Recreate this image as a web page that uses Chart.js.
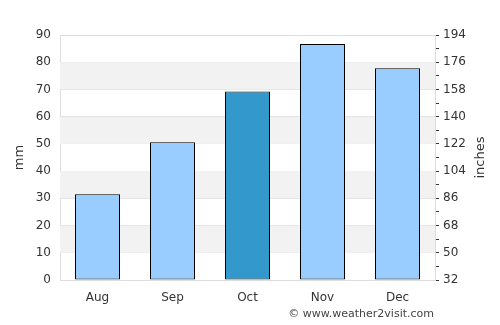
<!DOCTYPE html>
<html>
<head>
<meta charset="utf-8">
<script src="https://cdn.jsdelivr.net/npm/chart.js@4"></script>
<style>
  html, body { margin: 0; padding: 0; background: #fff; }
  #wrap { width: 500px; height: 325px; }
</style>
</head>
<body>
<div id="wrap"><canvas id="rainChart"></canvas></div>
<script>
// data
const months = ['Aug', 'Sep', 'Oct', 'Nov', 'Dec'];
const rainfall = [31.5, 50.6, 69.2, 86.7, 77.8];
const highlight = [false, false, true, false, false];
const mmTicks = [0, 10, 20, 30, 40, 50, 60, 70, 80, 90];
const rightTicks = [32, 50, 68, 86, 104, 122, 140, 158, 176, 194];
const shadedBands = [[10, 20], [30, 40], [50, 60], [70, 80]];

const FONT = "'DejaVu Sans', sans-serif";
const TXT = '#333';

// grey bands + axis titles + credit
const extras = {
  id: 'extras',
  beforeDatasetsDraw(chart) {
    const { ctx, chartArea, scales } = chart;
    ctx.save();
    ctx.fillStyle = '#f2f2f2';
    shadedBands.forEach(([a, b]) => {
      const y1 = scales.y.getPixelForValue(b);
      const y2 = scales.y.getPixelForValue(a);
      ctx.fillRect(chartArea.left, y1, chartArea.right - chartArea.left, y2 - y1);
    });
    ctx.restore();
  },
  afterDraw(chart) {
    const { ctx, chartArea } = chart;
    const midY = (chartArea.top + chartArea.bottom) / 2;
    ctx.save();
    ctx.fillStyle = TXT;
    ctx.font = '13px ' + FONT;
    ctx.textAlign = 'center';
    ctx.textBaseline = 'middle';
    [[20, 'mm'], [481, 'inches']].forEach(([x, t]) => {
      ctx.save();
      ctx.translate(x, midY);
      ctx.rotate(-Math.PI / 2);
      ctx.fillText(t, 0, 0);
      ctx.restore();
    });
    ctx.font = '11px ' + FONT;
    ctx.fillStyle = '#444';
    ctx.textAlign = 'right';
    ctx.textBaseline = 'alphabetic';
    ctx.fillText('© www.weather2visit.com', 434, 317);
    ctx.restore();
  }
};

new Chart(document.getElementById('rainChart'), {
  type: 'bar',
  data: {
    labels: months,
    datasets: [{
      data: rainfall,
      backgroundColor: highlight.map(h => h ? '#3399cc' : '#99ccff'),
      borderColor: '#000',
      borderWidth: 1,
      borderSkipped: false,
      categoryPercentage: 1,
      barPercentage: 0.6
    }]
  },
  options: {
    responsive: true,
    maintainAspectRatio: false,
    animation: false,
    layout: { padding: { top: 35, left: 0, right: 0, bottom: 0 } },
    plugins: { legend: { display: false }, tooltip: { enabled: false } },
    scales: {
      x: {
        grid: { display: false },
        border: { color: '#ddd' },
        ticks: { color: TXT, font: { family: FONT, size: 12 }, padding: 3 },
        afterFit(scale) { scale.height = 45; }
      },
      y: {
        position: 'left',
        min: 0,
        max: 90,
        afterBuildTicks(scale) { scale.ticks = mmTicks.map(v => ({ value: v })); },
        grid: { color: '#dddddd', drawTicks: false },
        border: { color: '#dddddd' },
        ticks: { color: TXT, font: { family: FONT, size: 12 }, padding: 9 },
        afterFit(scale) { scale.width = 60; }
      },
      y2: {
        position: 'right',
        min: 32,
        max: 194,
        afterBuildTicks(scale) {
          const t = [];
          for (let i = 0; i < rightTicks.length; i++) {
            t.push({ value: rightTicks[i] });
            if (i < rightTicks.length - 1) t.push({ value: (rightTicks[i] + rightTicks[i + 1]) / 2 });
          }
          scale.ticks = t;
        },
        grid: { drawOnChartArea: false, color: '#333', tickLength: 4 },
        border: { color: '#dddddd' },
        ticks: {
          autoSkip: false,
          color: TXT,
          font: { family: FONT, size: 12 },
          padding: 4,
          callback: v => rightTicks.includes(v) ? String(v) : ''
        },
        afterFit(scale) { scale.width = 65; }
      }
    }
  },
  plugins: [extras]
});
</script>
</body>
</html>
